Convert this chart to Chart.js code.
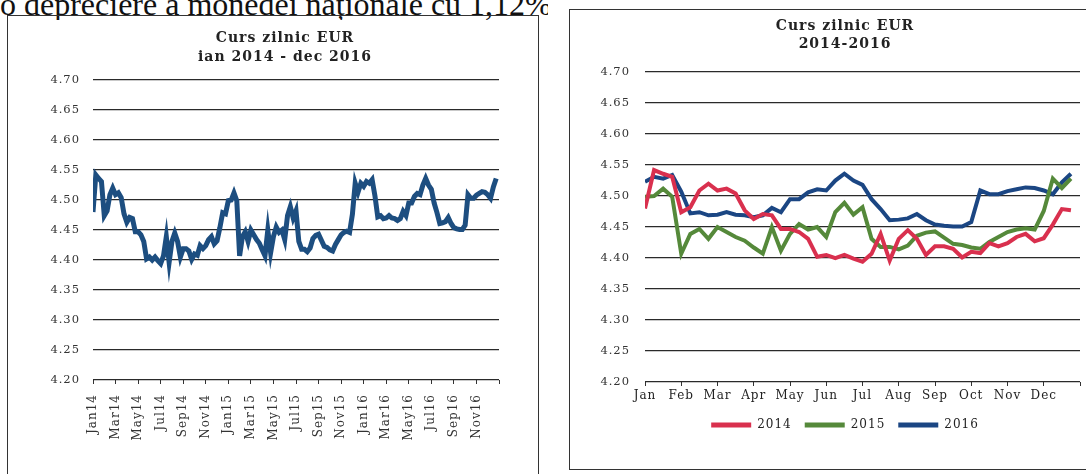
<!DOCTYPE html>
<html>
<head>
<meta charset="utf-8">
<script src="https://cdn.jsdelivr.net/npm/chart.js"></script>
<style>
    html, body { margin: 0; padding: 0; background: #fff; width: 1086px; height: 474px; overflow: hidden; }
    .text-sus { position: absolute; left: 0; top: -12px; width: 548px; overflow: hidden; white-space: nowrap;
        font-family: 'Liberation Serif', serif; font-size: 32px; line-height: 32px; color: #111; }
    .cadru { position: absolute; border: 1.5px solid #333; }
    #cadruStanga { left: 7px; top: 15px; width: 530px; height: 470px; }
    #cadruDreapta { left: 569px; top: 9px; width: 540px; height: 459px; }
    canvas { position: absolute; }
    #cursTotal { left: 10px; top: 16px; }
    #cursAnual { left: 575px; top: 8px; }
</style>
</head>
<body>
<div class="text-sus">o depreciere a monedei naționale cu 1,12%</div>
<div class="cadru" id="cadruStanga"></div>
<div class="cadru" id="cadruDreapta"></div>
<canvas id="cursTotal" width="550" height="458"></canvas>
<canvas id="cursAnual" width="540" height="462"></canvas>

<script>
// curs zilnic EUR/RON, ~4 valori pe luna
const curs2014 = [4.480, 4.542, 4.536, 4.531, 4.474, 4.482, 4.509, 4.520, 4.509, 4.512, 4.504, 4.477, 4.463, 4.471, 4.469, 4.447,
                  4.447, 4.442, 4.431, 4.402, 4.405, 4.400, 4.405, 4.399, 4.394, 4.407, 4.439, 4.396, 4.431, 4.445, 4.431, 4.405,
                  4.419, 4.419, 4.415, 4.401, 4.410, 4.408, 4.424, 4.419, 4.424, 4.434, 4.439, 4.427, 4.432, 4.454, 4.479, 4.477];
const curs2015 = [4.499, 4.500, 4.512, 4.499, 4.407, 4.439, 4.447, 4.431, 4.450, 4.442, 4.434, 4.428, 4.417, 4.407, 4.450, 4.412,
                  4.439, 4.455, 4.446, 4.450, 4.434, 4.474, 4.489, 4.470, 4.482, 4.431, 4.418, 4.418, 4.414, 4.420, 4.436, 4.441,
                  4.443, 4.433, 4.423, 4.421, 4.417, 4.415, 4.426, 4.434, 4.442, 4.446, 4.448, 4.446, 4.476, 4.528, 4.513, 4.528];
const curs2016 = [4.523, 4.531, 4.528, 4.534, 4.507, 4.472, 4.474, 4.469, 4.470, 4.474, 4.470, 4.469, 4.466, 4.469, 4.481, 4.474,
                  4.495, 4.495, 4.506, 4.511, 4.509, 4.525, 4.536, 4.525, 4.518, 4.495, 4.479, 4.461, 4.462, 4.464, 4.471, 4.461,
                  4.454, 4.452, 4.451, 4.451, 4.458, 4.509, 4.503, 4.503, 4.508, 4.511, 4.514, 4.513, 4.509, 4.503, 4.522, 4.536];

const ani = ['2014', '2015', '2016'];
const luni = ['Jan', 'Feb', 'Mar', 'Apr', 'May', 'Jun', 'Jul', 'Aug', 'Sep', 'Oct', 'Nov', 'Dec'];
const eticheteLuni = ['Jan14', 'Mar14', 'May14', 'Jul14', 'Sep14', 'Nov14',
                      'Jan15', 'Mar15', 'May15', 'Jul15', 'Sep15', 'Nov15',
                      'Jan16', 'Mar16', 'May16', 'Jul16', 'Sep16', 'Nov16'];

const culori = ['#d9304e', '#55893a', '#1b4683'];

// valori -> puncte {x: luna, y: curs}
const puncte = (valori) => valori.map((v, i) => ({ x: i / 4, y: v }));

Chart.defaults.font.family = "'DejaVu Serif', serif";
Chart.defaults.color = '#222';

// spatiere intre litere, ca in scan
const spatiere = {
    id: 'spatiere',
    beforeUpdate(chart) { chart.ctx.letterSpacing = '1px'; },
    beforeDraw(chart) { chart.ctx.letterSpacing = '1px'; }
};

const axaY = (latime, padding) => ({
    min: 4.2,
    max: 4.7,
    afterFit: (s) => { s.width = latime; },
    grid: { color: '#2a2a2a', lineWidth: 1.3, drawTicks: false },
    border: { display: false },
    ticks: {
        stepSize: 0.05,
        padding: padding,
        color: '#333',
        font: { size: 11.5 },
        callback: (v) => v.toFixed(2)
    }
});

// axa goala in dreapta, doar ca sa centreze titlul ca in original
const axaGoala = (latime) => ({
    position: 'right',
    afterFit: (s) => { s.width = latime; },
    grid: { display: false },
    border: { display: false },
    ticks: { display: false }
});

const cursTotal = document.getElementById('cursTotal');

new Chart(cursTotal, {
    type: 'line',
    data: {
        datasets: [{
            label: 'Curs EUR',
            data: puncte([...curs2014, ...curs2015, ...curs2016]),
            borderColor: '#1d4e80',
            borderWidth: 5,
            pointRadius: 0,
            tension: 0
        }]
    },
    options: {
        responsive: false,
        animation: false,
        plugins: {
            legend: { display: false },
            tooltip: { enabled: false },
            title: {
                display: true,
                text: ['Curs zilnic EUR', 'ian 2014 - dec 2016'],
                color: '#222',
                font: { size: 14, weight: 'bold', lineHeight: 1.36 },
                padding: { top: 12.5, bottom: 13.5 }
            }
        },
        scales: {
            x: {
                type: 'linear',
                min: 0,
                max: 36,
                afterFit: (s) => { s.height = 94; },
                grid: { drawOnChartArea: false, color: '#333', tickLength: 4 },
                border: { display: false },
                ticks: {
                    stepSize: 2,
                    autoSkip: false,
                    minRotation: 90,
                    maxRotation: 90,
                    padding: 10,
                    color: '#333',
                    font: { size: 12 },
                    callback: (v) => eticheteLuni[v / 2] ?? ''
                }
            },
            y: axaY(83, 13),
            gol: axaGoala(61)
        }
    },
    plugins: [spatiere]
});

const cursAnual = document.getElementById('cursAnual');

new Chart(cursAnual, {
    type: 'line',
    data: {
        datasets: [curs2014, curs2015, curs2016].map((valori, i) => ({
            label: ani[i],
            data: puncte(valori),
            borderColor: culori[i],
            backgroundColor: culori[i],
            borderWidth: 4,
            pointRadius: 0,
            tension: 0
        }))
    },
    options: {
        responsive: false,
        animation: false,
        layout: { padding: { bottom: 29 } },
        plugins: {
            tooltip: { enabled: false },
            title: {
                display: true,
                text: ['Curs zilnic EUR', '2014-2016'],
                color: '#222',
                font: { size: 14, weight: 'bold', lineHeight: 1.29 },
                padding: { top: 9, bottom: 19 }
            },
            legend: {
                position: 'bottom',
                labels: {
                    boxWidth: 40,
                    boxHeight: 5,
                    padding: 13,
                    color: '#222',
                    font: { size: 12 },
                    generateLabels: (chart) => Chart.defaults.plugins.legend.labels.generateLabels(chart)
                        .map((item) => ({ ...item, lineWidth: 0 }))
                }
            }
        },
        scales: {
            x: {
                type: 'linear',
                min: 0,
                max: 12,
                afterFit: (s) => { s.height = 24; },
                grid: { drawOnChartArea: false, color: '#333', tickLength: 4 },
                border: { display: false },
                ticks: {
                    stepSize: 1,
                    autoSkip: false,
                    maxRotation: 0,
                    padding: 3,
                    color: '#222',
                    font: { size: 12 },
                    callback: (v) => luni[v] ?? ''
                }
            },
            y: axaY(70, 15),
            gol: axaGoala(35)
        }
    },
    plugins: [spatiere]
});
</script>
</body>
</html>
